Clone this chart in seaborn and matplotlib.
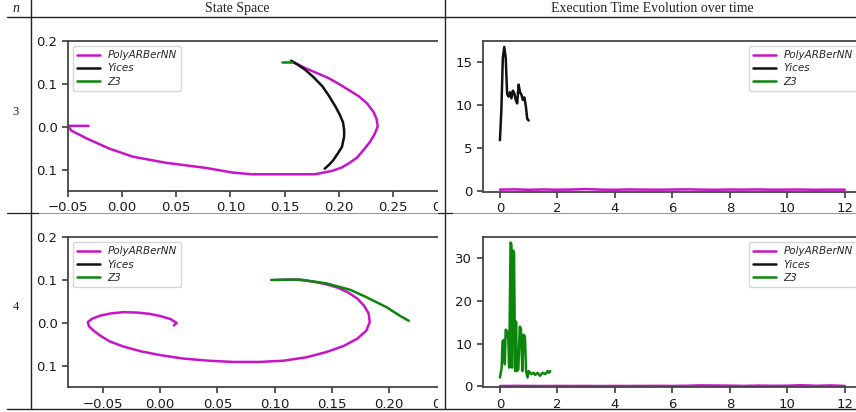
import matplotlib
matplotlib.use("Agg")
import matplotlib.pyplot as plt
import seaborn as sns
from matplotlib.lines import Line2D
from matplotlib.patches import Rectangle

W, H = 856, 412

series_names = ["PolyARBerNN", "Yices", "Z3"]
series_colors = ["#c814c8", "#111111", "#0b860b"]

# n = 3, state space
poly3_x = [-0.031, -0.050, -0.047, -0.033, -0.012, 0.010, 0.040, 0.077, 0.102, 0.120, 0.150,
           0.178, 0.194, 0.203, 0.209, 0.217, 0.224, 0.229, 0.233, 0.236, 0.235, 0.232, 0.226,
           0.218, 0.209, 0.200, 0.191, 0.180, 0.169, 0.157]
poly3_y = [0.002, 0.002, -0.009, -0.027, -0.051, -0.070, -0.084, -0.096, -0.107, -0.111, -0.111,
           -0.111, -0.103, -0.095, -0.086, -0.072, -0.051, -0.035, -0.018, 0.000, 0.018, 0.035,
           0.055, 0.072, 0.086, 0.100, 0.113, 0.125, 0.137, 0.152]
yices3_x = [0.156, 0.162, 0.169, 0.177, 0.185, 0.191, 0.197, 0.201, 0.204, 0.205, 0.205, 0.203,
            0.199, 0.195, 0.191, 0.187]
yices3_y = [0.154, 0.145, 0.133, 0.115, 0.094, 0.072, 0.047, 0.028, 0.010, -0.008, -0.023,
            -0.047, -0.063, -0.078, -0.089, -0.098]
z3_3_x = [0.148, 0.157]
z3_3_y = [0.151, 0.151]

# n = 4, state space
poly4_x = [0.012, 0.0145, 0.009, 0.000, -0.009, -0.020, -0.032, -0.043, -0.052, -0.059, -0.063,
           -0.062, -0.058, -0.052, -0.044, -0.032, -0.017, 0.000, 0.020, 0.042, 0.064, 0.086,
           0.108, 0.128, 0.145, 0.160, 0.172, 0.180, 0.183, 0.182, 0.178, 0.172, 0.164, 0.155,
           0.145, 0.134, 0.122, 0.112, 0.102]
poly4_y = [-0.006, 0.000, 0.009, 0.016, 0.021, 0.024, 0.025, 0.022, 0.017, 0.010, 0.002,
           -0.008, -0.018, -0.030, -0.043, -0.055, -0.066, -0.075, -0.083, -0.088, -0.091, -0.091,
           -0.088, -0.080, -0.068, -0.054, -0.037, -0.018, 0.002, 0.022, 0.040, 0.057, 0.071, 0.082,
           0.090, 0.096, 0.100, 0.101, 0.100]
z3_4_x = [0.097, 0.122, 0.145, 0.166, 0.180, 0.198, 0.209, 0.217]
z3_4_y = [0.100, 0.101, 0.092, 0.077, 0.060, 0.036, 0.017, 0.005]

# execution time
poly_t = [0.0, 0.5, 1.0, 1.5, 2.0, 2.5, 3.0, 3.5, 4.0, 4.5, 5.0, 5.5, 6.0, 6.5, 7.0, 7.5,
          8.0, 8.5, 9.0, 9.5, 10.0, 10.5, 11.0, 11.5, 12.0]
poly3_time = [0.12, 0.15, 0.10, 0.14, 0.11, 0.13, 0.18, 0.12, 0.10, 0.14, 0.12, 0.11, 0.13,
              0.15, 0.12, 0.10, 0.13, 0.12, 0.14, 0.11, 0.12, 0.13, 0.10, 0.12, 0.11]
poly4_time = [0.10, 0.14, 0.12, 0.10, 0.13, 0.11, 0.12, 0.10, 0.13, 0.11, 0.12, 0.14, 0.12,
              0.16, 0.25, 0.22, 0.18, 0.12, 0.20, 0.15, 0.18, 0.28, 0.16, 0.24, 0.12]
yices3_t = [0.00, 0.05, 0.10, 0.15, 0.20, 0.25, 0.30, 0.35, 0.40, 0.45, 0.50, 0.55, 0.60,
            0.65, 0.70, 0.75, 0.80, 0.85, 0.90, 0.95, 1.00]
yices3_time = [5.9, 9.5, 15.5, 16.8, 15.6, 11.3, 11.0, 11.5, 10.8, 11.7, 11.4, 10.6, 10.2,
               12.4, 11.5, 11.2, 10.6, 10.9, 9.9, 8.4, 8.2]
z3_4_t = [0.00, 0.06, 0.09, 0.14, 0.17, 0.20, 0.25, 0.29, 0.32, 0.37, 0.40, 0.42, 0.46, 0.49,
          0.53, 0.56, 0.59, 0.64, 0.69, 0.73, 0.78, 0.82, 0.87, 0.91, 0.96, 1.00, 1.09, 1.17,
          1.23, 1.31, 1.39, 1.49, 1.58, 1.66, 1.71, 1.75]
z3_4_time = [2.1, 4.4, 10.6, 10.9, 5.2, 13.3, 12.9, 11.3, 4.4, 33.7, 33.3, 4.4, 31.8, 31.4,
             3.6, 15.2, 3.6, 4.0, 14.0, 13.6, 3.6, 12.1, 11.7, 3.6, 2.1, 3.6, 2.9, 3.2,
             2.7, 3.2, 2.5, 3.2, 2.9, 3.6, 3.2, 3.6]

header_labels = ["n", "State Space", "Execution Time Evolution over time"]
row_labels = ["3", "4"]
state_yticks = [-0.1, 0.0, 0.1, 0.2]
state_yticklabels = ["0.1", "0.0", "0.1", "0.2"]

sns.set_theme(style="ticks")
plt.rcParams.update({
    "font.family": ["DejaVu Sans"],
    "axes.edgecolor": "#444444",
    "axes.linewidth": 1.3,
    "xtick.color": "#444444",
    "ytick.color": "#444444",
    "xtick.labelcolor": "#1a1a1a",
    "ytick.labelcolor": "#1a1a1a",
    "xtick.labelsize": 9.5,
    "ytick.labelsize": 9.5,
    "xtick.major.size": 4,
    "ytick.major.size": 4,
})

fig = plt.figure(figsize=(W / 100, H / 100), dpi=100)


def px_box(left, top, right, bottom):
    return [left / W, 1 - bottom / H, (right - left) / W, (bottom - top) / H]


def fx(x):
    return x / W


def fy(y):
    return 1 - y / H


def draw_lines(ax, data):
    for name, color in zip(series_names, series_colors):
        if name in data:
            x, y = data[name]
            sns.lineplot(x=x, y=y, ax=ax, color=color, lw=1.8, sort=False, estimator=None)


def add_legend(ax, loc):
    handles = [Line2D([], [], color=c, lw=1.8) for c in series_colors]
    ax.legend(handles, series_names, loc=loc, prop={"style": "italic", "size": 7.5},
              labelspacing=0.3, handlelength=2.2, handletextpad=0.7, borderpad=0.4)


# row n = 3
ax3s = fig.add_axes(px_box(68, 41, 447, 191), zorder=0)
draw_lines(ax3s, {"PolyARBerNN": (poly3_x, poly3_y), "Yices": (yices3_x, yices3_y),
                  "Z3": (z3_3_x, z3_3_y)})
ax3s.set_xlim(-0.05, 0.30)
ax3s.set_ylim(-0.15, 0.2)
ax3s.set_xticks([-0.05, 0.0, 0.05, 0.10, 0.15, 0.20, 0.25, 0.30])
ax3s.set_yticks(state_yticks, state_yticklabels)
add_legend(ax3s, "upper left")

ax3t = fig.add_axes(px_box(482.7, 41, 862, 191.5), zorder=2)
draw_lines(ax3t, {"PolyARBerNN": (poly_t, poly3_time), "Yices": (yices3_t, yices3_time)})
ax3t.set_xlim(-0.6, 12.6)
ax3t.set_ylim(-0.1, 17.5)
ax3t.set_xticks([0, 2, 4, 6, 8, 10, 12])
ax3t.set_yticks([0, 5, 10, 15])
add_legend(ax3t, "upper right")

# row n = 4
ax4s = fig.add_axes(px_box(68, 237, 458, 387.3), zorder=0)
draw_lines(ax4s, {"PolyARBerNN": (poly4_x, poly4_y), "Z3": (z3_4_x, z3_4_y)})
ax4s.set_xlim(-0.0803, 0.26)
ax4s.set_ylim(-0.15, 0.2)
ax4s.set_xticks([-0.05, 0.0, 0.05, 0.10, 0.15, 0.20, 0.25])
ax4s.set_yticks(state_yticks, state_yticklabels)
add_legend(ax4s, "upper left")

ax4t = fig.add_axes(px_box(482.7, 237, 862, 387.3), zorder=2)
draw_lines(ax4t, {"PolyARBerNN": (poly_t, poly4_time), "Z3": (z3_4_t, z3_4_time)})
ax4t.set_xlim(-0.6, 12.6)
ax4t.set_ylim(-0.2, 35)
ax4t.set_xticks([0, 2, 4, 6, 8, 10, 12])
ax4t.set_yticks([0, 10, 20, 30])
add_legend(ax4t, "upper right")

for ax in (ax3s, ax3t, ax4s, ax4t):
    ax.set_xlabel("")
    ax.set_ylabel("")
    ax.tick_params(top=False, right=False)

# the left images are cropped by the table cell
for top, bottom in ((18, 211), (214, 408)):
    fig.add_artist(Rectangle((fx(438), fy(bottom)), fx(470) - fx(438), fy(top) - fy(bottom),
                             transform=fig.transFigure, facecolor="white", edgecolor="none",
                             zorder=1))

# table rules
dark = "#222222"
rules = [
    ((7, W), (17.3, 17.3), dark, 1.0),
    ((7, W), (212.8, 212.8), "#9a9a9a", 0.8),
    ((7, 38), (212.8, 212.8), dark, 0.9),
    ((438, 452), (212.8, 212.8), dark, 0.9),
    ((7, W), (409, 409), dark, 1.0),
    ((30.7, 30.7), (0, 409), dark, 1.0),
    ((445.3, 445.3), (0, 409), dark, 1.0),
]
for xs, ys, color, lw in rules:
    fig.add_artist(Line2D([fx(v) for v in xs], [fy(v) for v in ys], color=color, lw=lw,
                          transform=fig.transFigure, zorder=3))

serif = ["Liberation Serif", "DejaVu Serif"]
fig.text(fx(16), fy(8.5), header_labels[0], family=serif, style="italic", size=10,
         ha="center", va="center", color=dark)
fig.text(fx(237.5), fy(8.5), header_labels[1], family=serif, size=10,
         ha="center", va="center", color=dark)
fig.text(fx(652), fy(8.5), header_labels[2], family=serif, size=10,
         ha="center", va="center", color=dark)
fig.text(fx(16), fy(112), row_labels[0], family=serif, size=9, ha="center", va="center", color=dark)
fig.text(fx(16), fy(307), row_labels[1], family=serif, size=9, ha="center", va="center", color=dark)

fig.savefig("out.png", dpi=100)
